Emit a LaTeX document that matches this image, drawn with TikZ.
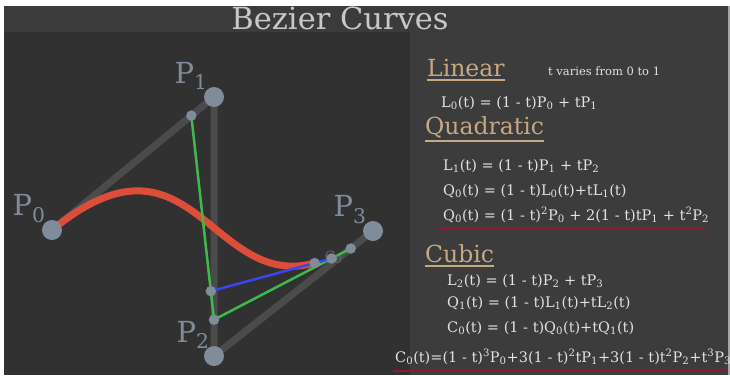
\documentclass[tikz,border=0pt]{standalone}
\usepackage{fontspec}
\setmainfont{DejaVu Serif}
\usepackage{tikz}
\usetikzlibrary{calc, positioning}

\definecolor{panelleft}{HTML}{313131}
\definecolor{panelright}{HTML}{3C3C3C}
\definecolor{titlebar}{HTML}{3B3B3B}
\definecolor{titletext}{HTML}{C8C8C8}
\definecolor{hullgray}{HTML}{4B4B4B}
\definecolor{dotgray}{HTML}{808C9A}
\definecolor{curvered}{HTML}{DD4E3A}
\definecolor{lerpgreen}{HTML}{3DBA4A}
\definecolor{lerpblue}{HTML}{3A44F0}
\definecolor{headtan}{HTML}{C6A881}
\definecolor{eqtext}{HTML}{E2E2E2}
\definecolor{ulred}{HTML}{8E1A2C}

\newcommand{\tval}{0.86}
\newcommand{\lo}[1]{\textsubscript{#1}}
\newcommand{\hi}[1]{\textsuperscript{#1}}

\tikzset{
  ctrlpt/.style={circle, fill=dotgray, inner sep=0pt, minimum size=20pt},
  lerppt/.style={circle, fill=dotgray, inner sep=0pt, minimum size=10.5pt},
  ptlabel/.style={text=dotgray, font=\fontsize{29}{29}\selectfont, inner sep=0pt},
  hull/.style={draw=hullgray, line width=7pt},
  heading/.style={anchor=base west, text=headtan, font=\fontsize{23.5}{24}\selectfont, inner sep=0pt},
  headline/.style={draw=headtan, line width=1.5pt},
  eqn/.style={anchor=base west, text=eqtext, font=\fontsize{14.5}{15}\selectfont, inner sep=0pt},
  eqline/.style={draw=ulred, line width=1.5pt},
}

\begin{document}
\begin{tikzpicture}[x=1pt, y=-1pt]
	\useasboundingbox (0, 0) rectangle (730, 375);
	% Background panels:
	\fill[white] (0, 0) rectangle (730, 375);
	\fill[titlebar] (4, 6) rectangle (728, 32);
	\fill[panelleft] (4, 32) rectangle (410, 375);
	\fill[panelright] (410, 32) rectangle (728, 375);
	\fill[gray!70] (728, 6) rectangle (730, 375);
	\node[text=titletext, font=\fontsize{30.5}{31}\selectfont, inner sep=0pt, anchor=base] (title) at (340, 29){Bezier Curves};

	% Control points and de Casteljau points:
	\coordinate (P0) at (52, 230);
	\coordinate (P1) at (214, 97);
	\coordinate (P2) at (214, 356);
	\coordinate (P3) at (373, 231);
	\coordinate (L0) at ($(P0)!\tval!(P1)$);
	\coordinate (L1) at ($(P1)!\tval!(P2)$);
	\coordinate (L2) at ($(P2)!\tval!(P3)$);
	\coordinate (Q0) at ($(L0)!\tval!(L1)$);
	\coordinate (Q1) at ($(L1)!\tval!(L2)$);
	\coordinate (C0) at ($(Q0)!\tval!(Q1)$);

	% Paths:
	\draw[hull] (P0) -- (P1) -- (P2) -- (P3);
	\draw[curvered, line width=7pt] (P0) .. controls (L0) and (Q0) .. (C0);
	\draw[lerpgreen, line width=2.5pt] (L0) -- (L1) -- (L2);
	\draw[lerpblue, line width=2.5pt] (Q0) -- (Q1);

	% Nodes:
	\node[ctrlpt] (p0) at (P0){};
	\node[ctrlpt] (p1) at (P1){};
	\node[ctrlpt] (p2) at (P2){};
	\node[ctrlpt] (p3) at (P3){};
	\node[lerppt] (l0) at (L0){};
	\node[lerppt] (l1) at (L1){};
	\node[lerppt] (l2) at (L2){};
	\node[lerppt] (q0) at (Q0){};
	\node[text=dotgray!75!black, font=\fontsize{14}{14}\selectfont, inner sep=0pt] (c0lbl) at ($(C0)+(19, -6)$){C\lo{0}};
	\node[lerppt] (q1) at (Q1){};
	\node[lerppt] (c0) at (C0){};
	\node[ptlabel, anchor=south east] (p0lbl) at ([xshift=1pt]p0.north west){P\lo{0}};
	\node[ptlabel, anchor=south east] (p1lbl) at ([xshift=1pt]p1.north west){P\lo{1}};
	\node[ptlabel, anchor=south east] (p2lbl) at ([xshift=3pt]p2.north west){P\lo{2}};
	\node[ptlabel, anchor=south east] (p3lbl) at ([xshift=1pt]p3.north west){P\lo{3}};

	% Formulas:
	\node[heading] (lin) at (427, 76){Linear};
	\draw[headline] ([yshift=-4pt]lin.base west) -- ([yshift=-4pt]lin.base east);
	\node[anchor=base west, text=eqtext, font=\fontsize{11.5}{12}\selectfont, inner sep=0pt] (tnote) at (548, 75){t varies from 0 to 1};
	\node[eqn] (eqA) at (441, 107){L\lo{0}(t) = (1 - t)P\lo{0} + tP\lo{1}};
	\node[heading] (quad) at (425, 134){Quadratic};
	\draw[headline] ([yshift=-3pt]quad.south west) -- ([yshift=-3pt]quad.south east);
	\node[eqn] (eqB) at (443, 170){L\lo{1}(t) = (1 - t)P\lo{1} + tP\lo{2}};
	\node[eqn] (eqC) at (443, 195){Q\lo{0}(t) = (1 - t)L\lo{0}(t)+tL\lo{1}(t)};
	\node[eqn] (eqD) at (443, 220){Q\lo{0}(t) = (1 - t)\hi{2}P\lo{0} + 2(1 - t)tP\lo{1} + t\hi{2}P\lo{2}};
	\draw[eqline] (438, 228) -- (705, 228);
	\node[heading] (cub) at (425, 262){Cubic};
	\draw[headline] ([yshift=-4pt]cub.base west) -- ([yshift=-4pt]cub.base east);
	\node[eqn] (eqE) at (447, 285){L\lo{2}(t) = (1 - t)P\lo{2} + tP\lo{3}};
	\node[eqn] (eqF) at (447, 307){Q\lo{1}(t) = (1 - t)L\lo{1}(t)+tL\lo{2}(t)};
	\node[eqn] (eqG) at (447, 332){C\lo{0}(t) = (1 - t)Q\lo{0}(t)+tQ\lo{1}(t)};
	\node[eqn] (eqH) at (395, 362){C\lo{0}(t)=(1 - t)\hi{3}P\lo{0}+3(1 - t)\hi{2}tP\lo{1}+3(1 - t)t\hi{2}P\lo{2}+t\hi{3}P\lo{3}};
	\draw[eqline] (393, 371) -- (728, 371);
\end{tikzpicture}
\end{document}
